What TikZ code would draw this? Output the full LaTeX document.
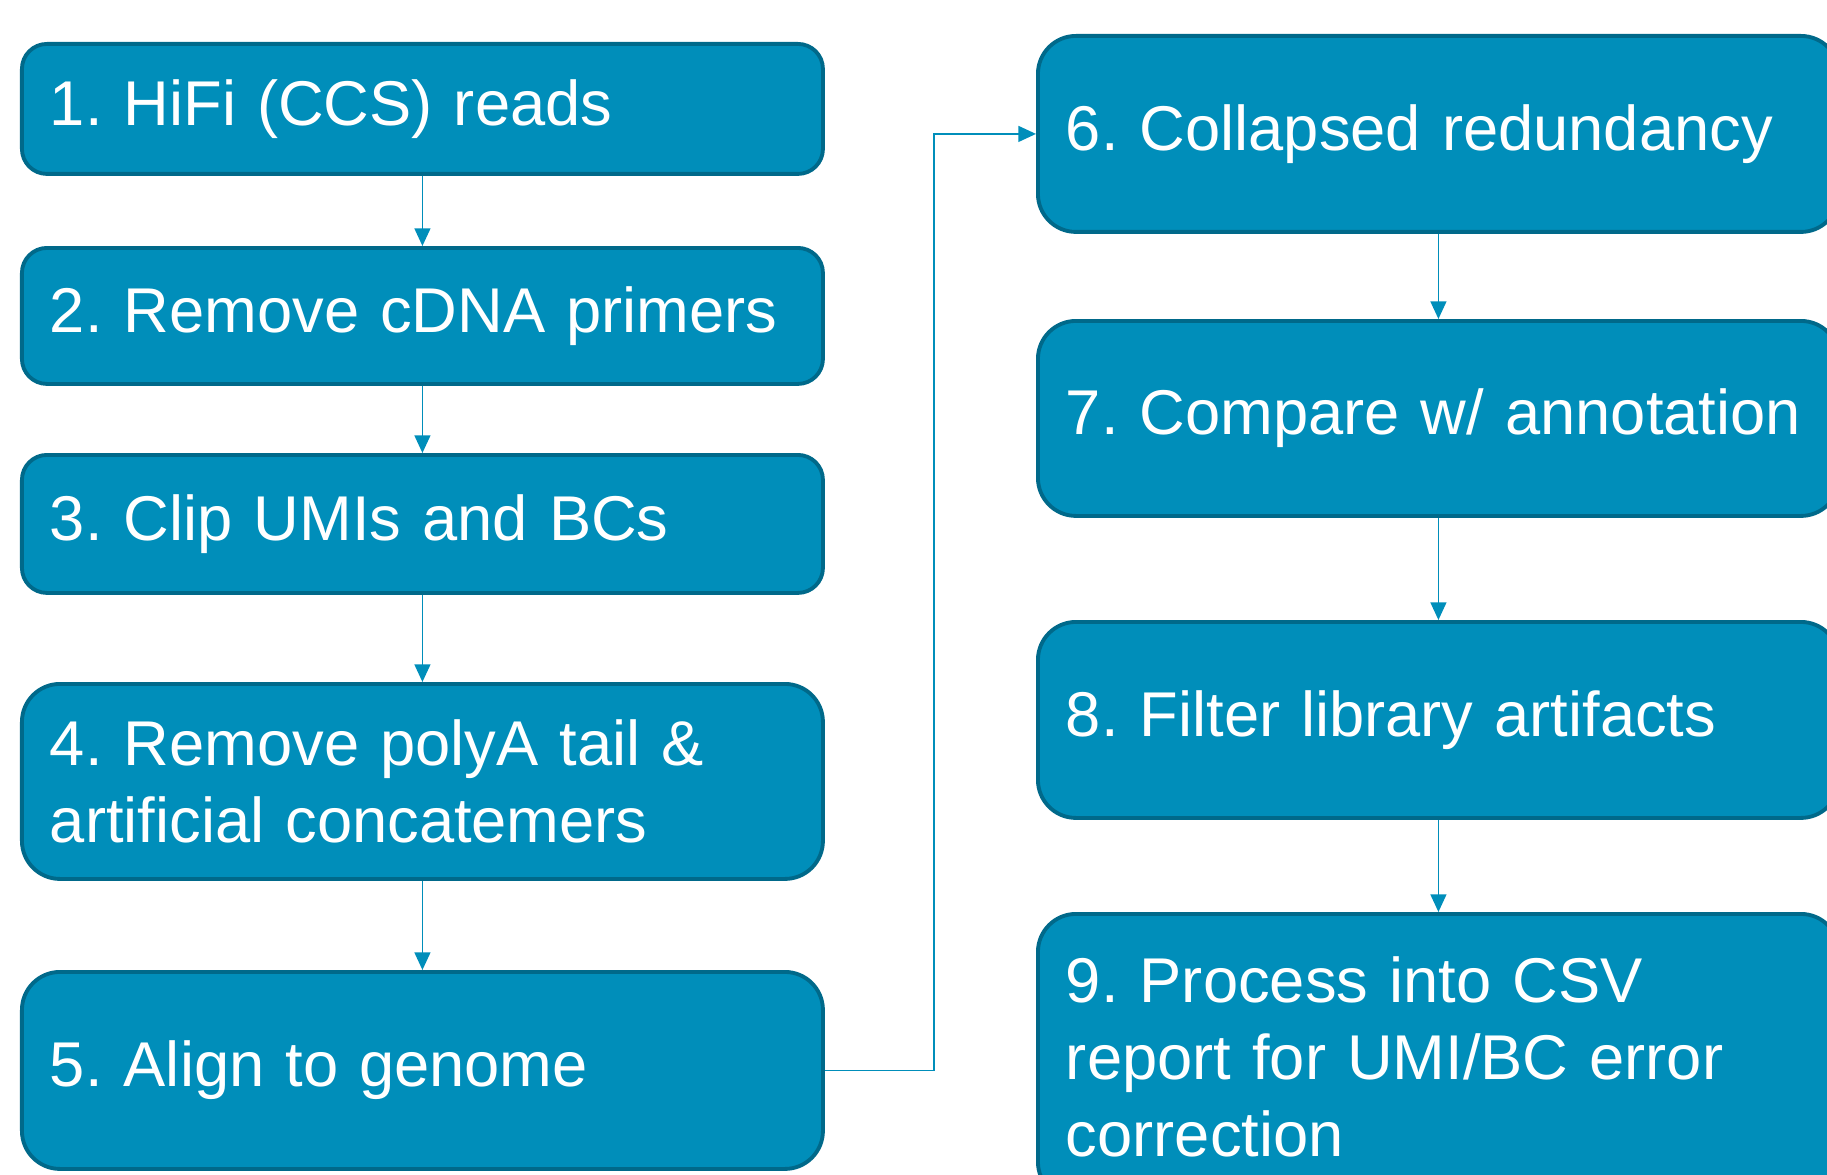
\documentclass[tikz,border=0pt]{standalone}
\usepackage{fontspec}
\setmainfont{Liberation Sans}
\usepackage{tikz}
\usetikzlibrary{arrows.meta, positioning}
\definecolor{StepFill}{HTML}{008EBA}
\definecolor{StepLine}{HTML}{00698A}
\newcommand{\stepfont}{\fontsize{18}{21.8}\selectfont\frenchspacing\hyphenpenalty=10000\relax}

\begin{document}
\begin{tikzpicture}[>={Triangle[length=5pt, width=4.5pt]},
    stepbox/.style={draw=StepLine, line width=1.1pt, fill=StepFill, text=white,
        rounded corners=0.25cm, anchor=north west, text width=7.45cm, align=left,
        inner xsep=0.28cm, inner ysep=0pt, font=\stepfont},
    bigbox/.style={stepbox, rounded corners=0.38cm},
    link/.style={->, draw=StepFill, line width=0.5pt}]
        \useasboundingbox (0,0) rectangle (18.27,-11.75);

        % Nodes
        \node[stepbox, minimum height=1.30cm] (b1) at (0.20,-0.42) {1. HiFi (CCS) reads};
        \node[stepbox, minimum height=1.36cm] (b2) at (0.20,-2.46) {2. Remove cDNA primers};
        \node[stepbox, minimum height=1.38cm] (b3) at (0.20,-4.53) {3. Clip UMIs and BCs};
        \node[bigbox, minimum height=1.95cm] (b4) at (0.20,-6.82) {4. Remove polyA tail \&\\artificial concatemers};
        \node[bigbox, minimum height=1.97cm] (b5) at (0.20,-9.70) {5. Align to genome};

        \node[bigbox, minimum height=1.96cm] (b6) at (10.36,-0.34) {6. Collapsed redundancy};
        \node[bigbox, minimum height=1.95cm] (b7) at (10.36,-3.19) {7. Compare w/ annotation};
        \node[bigbox, minimum height=1.96cm] (b8) at (10.36,-6.20) {8. Filter library artifacts};
        \node[bigbox, minimum height=2.86cm] (b9) at (10.36,-9.12) {9. Process into CSV\\report for UMI/BC error\\correction};

        % Directed edges
        \draw[link] (b1) -- (b2);
        \draw[link] (b2) -- (b3);
        \draw[link] (b3) -- (b4);
        \draw[link] (b4) -- (b5);
        \draw[link] (b5.east) -- ++(1.09,0) |- (b6.west);
        \draw[link] (b6) -- (b7);
        \draw[link] (b7) -- (b8);
        \draw[link] (b8) -- (b9);
    \end{tikzpicture}
\end{document}
